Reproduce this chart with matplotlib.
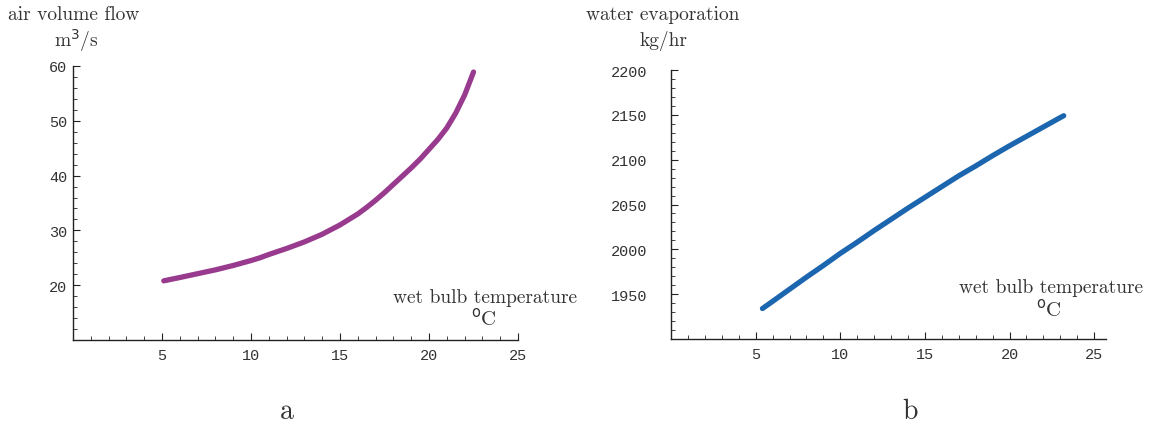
import matplotlib.pyplot as plt
from matplotlib.ticker import MultipleLocator

# values
t_air = [5.1, 6, 7, 8, 9, 10, 10.5, 11, 12, 13, 14, 15, 16, 16.5, 17, 17.5, 18, 18.5, 19, 19.5,
         20, 20.5, 21, 21.5, 22, 22.5]
air_flow = [20.8, 21.4, 22.1, 22.8, 23.6, 24.5, 25.0, 25.6, 26.7, 27.9, 29.3, 31.0, 33.0, 34.2,
            35.5, 36.9, 38.4, 39.9, 41.4, 43.0, 44.8, 46.6, 48.7, 51.4, 54.7, 58.9]

t_evap = [5.4, 6, 7, 8, 9, 10, 11, 12, 13, 14, 15, 16, 17, 18, 19, 20, 21, 22, 23, 23.2]
evap = [1934, 1942, 1955.5, 1969, 1982, 1995.5, 2008, 2021, 2033.5, 2046, 2058, 2070, 2082, 2093,
        2104.5, 2115.5, 2126, 2136.5, 2147, 2149]

serif = 'cmr10'
mono = 'Liberation Mono'
tcol = '#333333'

fig = plt.figure(figsize=(11.55, 4.27), dpi=100)


def style(ax, xmax, ymin, ymax, yticks, ymin_step, ypad):
    ax.spines['top'].set_visible(False)
    ax.spines['right'].set_visible(False)
    for s in ['left', 'bottom']:
        ax.spines[s].set_linewidth(1.0)
        ax.spines[s].set_color('#222222')
    ax.set_xlim(0, xmax)
    ax.set_ylim(ymin, ymax)
    ax.xaxis.set_minor_locator(MultipleLocator(1))
    ax.yaxis.set_minor_locator(MultipleLocator(ymin_step))
    xt = [v for v in range(5, int(xmax) + 1, 5)]
    ax.set_xticks(xt)
    ax.set_xticklabels([str(v) for v in xt], fontfamily=mono, fontsize=11, color=tcol)
    ax.set_yticks(yticks)
    ax.set_yticklabels([str(v) for v in yticks], fontfamily=mono, fontsize=11, color=tcol)
    ax.tick_params(which='major', direction='in', length=5, width=0.8, color='#222222')
    ax.tick_params(which='minor', direction='in', length=3, width=0.6, color='#222222')
    ax.tick_params(axis='x', which='major', pad=6)
    ax.tick_params(axis='y', which='major', pad=ypad)


# panel a
ax1 = fig.add_axes([0.0632, 0.2014, 0.3853, 0.6417])
ax1.plot(t_air, air_flow, color='#983A8E', lw=3.8, solid_capstyle='round')
style(ax1, 25, 10, 60, [20, 30, 40, 50, 60], 2, 4)

fig.text(0.007, 0.965, 'air volume flow', fontfamily=serif, fontsize=14, color=tcol, va='center')
fig.text(0.047, 0.905, r'm$^{3}$/s', fontfamily=serif, fontsize=14, color=tcol, va='center')
fig.text(0.4195, 0.303, 'wet bulb temperature', fontfamily=serif, fontsize=14, color=tcol,
         ha='center', va='center')
fig.text(0.408, 0.254, r'$^{\rm o}$C', fontfamily=serif, fontsize=15, color=tcol, va='center')
fig.text(0.2485, 0.035, 'a', fontfamily=serif, fontsize=20, color=tcol, ha='center', va='center')

# panel b
ax2 = fig.add_axes([0.581, 0.2037, 0.3766, 0.630])
ax2.plot(t_evap, evap, color='#1C66B0', lw=3.8, solid_capstyle='round')
style(ax2, 25.7, 1900, 2200, [1950, 2000, 2050, 2100, 2150, 2200], 10, 17)

fig.text(0.5075, 0.965, 'water evaporation', fontfamily=serif, fontsize=14, color=tcol, va='center')
fig.text(0.554, 0.905, 'kg/hr', fontfamily=serif, fontsize=14, color=tcol, va='center')
fig.text(0.910, 0.325, 'wet bulb temperature', fontfamily=serif, fontsize=14, color=tcol,
         ha='center', va='center')
fig.text(0.897, 0.276, r'$^{\rm o}$C', fontfamily=serif, fontsize=15, color=tcol, va='center')
fig.text(0.788, 0.035, 'b', fontfamily=serif, fontsize=20, color=tcol, ha='center', va='center')

fig.savefig('out.png', dpi=100)
